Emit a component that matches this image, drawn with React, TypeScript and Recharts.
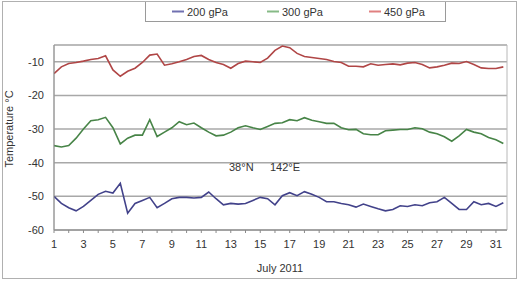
import React from 'react';
import { CartesianGrid, Legend, Line, LineChart, ReferenceArea, XAxis, YAxis } from 'recharts';

// half-day steps, July 1 .. July 31.5
const days = Array.from({ length: 62 }, (_, i) => 1 + i * 0.5);

const t200 = [
  -50, -52.1, -53.4, -54.3, -53, -51.2, -49.4, -48.5, -49, -46.1, -55, -52.1,
  -51.2, -50.3, -53.4, -52.1, -50.7, -50.3, -50.3, -50.5, -50.3, -48.7, -50.7, -52.5,
  -52.1, -52.3, -52.1, -51.2, -50.3, -50.7, -52.5, -49.8, -48.9, -49.8, -48.6, -49.4,
  -50.3, -51.6, -51.6, -52.1, -52.5, -53.2, -52.3, -53, -53.7, -54.3, -53.9, -52.8,
  -53, -52.5, -52.8, -51.9, -51.6, -50.3, -52.1, -53.9, -53.9, -51.6, -52.5, -52.1,
  -53, -51.9,
];

const t300 = [
  -34.9, -35.3, -34.9, -32.7, -30, -27.5, -27.2, -26.5, -29.6, -34.4, -32.7, -31.8,
  -31.8, -27.2, -32.2, -30.9, -29.6, -27.8, -28.7, -28.2, -29.6, -30.9, -32, -31.8,
  -30.9, -29.6, -29, -29.6, -30.1, -29.2, -28.3, -28.1, -27.2, -27.5, -26.6, -27.4,
  -27.8, -28.3, -28.3, -29.6, -30.2, -30.1, -31.4, -31.7, -31.7, -30.5, -30.3, -30.1,
  -30.1, -29.6, -29.9, -30.9, -31.4, -32.3, -33.6, -32, -30.1, -30.9, -31.4, -32.5,
  -33.2, -34.3,
];

const t450 = [
  -13.5, -11.5, -10.5, -10.2, -9.8, -9.3, -9, -8.2, -12.4, -14.3, -12.8, -11.9,
  -10.2, -8, -7.7, -11, -10.6, -10, -9.3, -8.4, -8.1, -9.3, -10.2, -10.8,
  -11.9, -10.5, -9.8, -10, -10.2, -8.9, -6.6, -5.3, -5.8, -7.5, -8.4, -8.7,
  -9, -9.3, -9.9, -10.2, -11.3, -11.3, -11.5, -10.6, -11, -10.8, -10.6, -10.9,
  -10.4, -10.2, -10.8, -11.8, -11.5, -11, -10.4, -10.5, -9.9, -10.8, -11.8, -12,
  -12, -11.5,
];

const yTicks = [-60, -50, -40, -30, -20, -10];
const dayTicks = Array.from({ length: 31 }, (_, i) => i + 1);

const seriesInfo = [
  { key: 't200', name: '200 gPa', color: '#42428a', legend: '#7070b0' },
  { key: 't300', name: '300 gPa', color: '#478447', legend: '#86ba86' },
  { key: 't450', name: '450 gPa', color: '#b04646', legend: '#e08080' },
];

const data = days.map((d, i) => ({ day: d, t200: t200[i], t300: t300[i], t450: t450[i] }));

const font = '"Liberation Sans", Arial, sans-serif';

function DayTick(props: any) {
  const { x, y, payload } = props;
  if (payload.value % 2 === 0) return null;
  return (
    <text x={x} y={y} dy={9} textAnchor="middle" fontSize={11} fill="#333" fontFamily={font}>
      {payload.value}
    </text>
  );
}

function LegendBox() {
  // left edge of each legend sample, in page pixels
  const spots = [172, 267, 369];
  const boxLeft = 145;
  return (
    <svg width={302} height={22} style={{ display: 'block' }}>
      <rect x={0.5} y={0.5} width={300} height={20} fill="#fff" stroke="#9a9a9a" />
      {seriesInfo.map((s, i) => (
        <g key={s.key}>
          <line
            x1={spots[i] - boxLeft}
            x2={spots[i] - boxLeft + 12}
            y1={10.5}
            y2={10.5}
            stroke={s.legend}
            strokeWidth={2}
          />
          <text x={spots[i] - boxLeft + 15} y={14.5} fontSize={11} fill="#333" fontFamily={font}>
            {s.name}
          </text>
        </g>
      ))}
    </svg>
  );
}

export default function App() {
  return (
    <div style={{ position: 'absolute', left: 0, top: 0, width: 519, height: 282, background: '#fff' }}>
      <LineChart
        width={519}
        height={282}
        data={data}
        margin={{ top: 23, right: 12, left: 24, bottom: 22 }}
      >
        <CartesianGrid vertical={false} stroke="#a8a8a8" strokeWidth={1.5} />
        <ReferenceArea x1={1} x2={31.75} y1={-60} y2={-5} fill="none" stroke="#b8b8b8" ifOverflow="visible" />
        <XAxis
          dataKey="day"
          type="number"
          domain={[1, 31.75]}
          ticks={dayTicks}
          interval={0}
          tick={<DayTick />}
          tickSize={3}
          tickMargin={6}
          height={30}
          stroke="#8a8a8a"
          allowDataOverflow
        />
        <YAxis
          type="number"
          domain={[-60, -5]}
          ticks={yTicks}
          interval={0}
          width={30}
          tickLine={false}
          tickSize={4}
          tickMargin={6}
          stroke="#8a8a8a"
          tick={{ fontSize: 11, fill: '#333', fontFamily: font }}
          allowDataOverflow
        />
        <Legend
          verticalAlign="top"
          align="left"
          content={() => <LegendBox />}
          wrapperStyle={{ top: 1, left: 145, width: 302, height: 22 }}
        />
        {seriesInfo.map((s) => (
          <Line
            key={s.key}
            dataKey={s.key}
            name={s.name}
            type="linear"
            stroke={s.color}
            strokeWidth={1.6}
            dot={false}
            isAnimationActive={false}
          />
        ))}
      </LineChart>
      <svg
        width={519}
        height={282}
        style={{ position: 'absolute', left: 0, top: 0, pointerEvents: 'none' }}
      >
        <rect x={2.5} y={1.5} width={514} height={277} fill="none" stroke="#b0b0b0" />
        <text
          transform="translate(13,129) rotate(-90)"
          textAnchor="middle"
          fontSize={11}
          fill="#333"
          fontFamily={font}
        >
          Temperature °C
        </text>
        <text x={280} y={272} textAnchor="middle" fontSize={11} fill="#333" fontFamily={font}>
          July 2011
        </text>
        <text x={229} y={171} fontSize={11} fill="#333" fontFamily={font}>
          38°N
        </text>
        <text x={270} y={171} fontSize={11} fill="#333" fontFamily={font}>
          142°E
        </text>
      </svg>
    </div>
  );
}
